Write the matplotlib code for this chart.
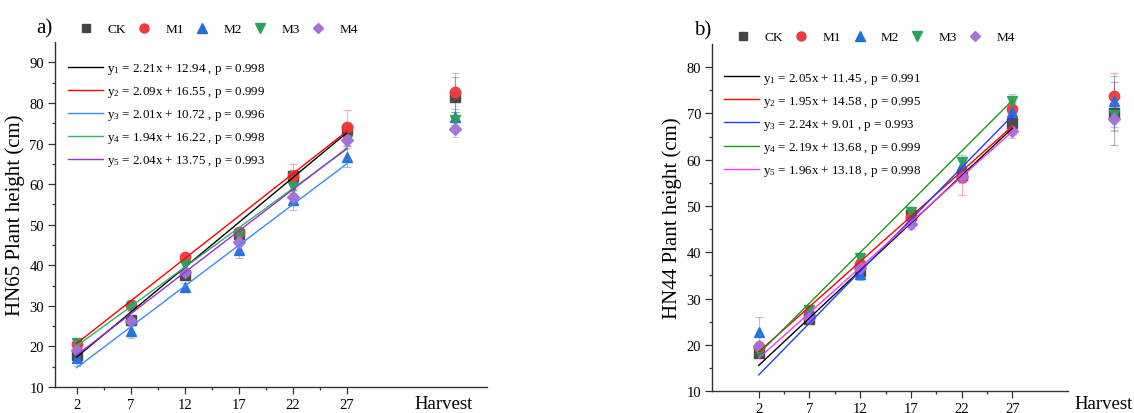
import numpy as np
from matplotlib import pyplot as plt
from matplotlib.lines import Line2D

plt.rcParams['font.family'] = ['Liberation Serif', 'DejaVu Serif']
plt.rcParams['mathtext.fontset'] = 'custom'
plt.rcParams['mathtext.rm'] = 'Liberation Serif'
plt.rcParams['mathtext.it'] = 'Liberation Serif:italic'

# days after sowing, plus the harvest sample
days = [2, 7, 12, 17, 22, 27]
harvest_x = 37
groups = ["CK", "M1", "M2", "M3", "M4"]

# panel a) HN65 (last value = harvest)
hn65 = {
    "CK": [17.8, 26.5, 37.5, 47.7, 62.1, 73.3, 81.5],
    "M1": [20.5, 30.3, 42.0, 48.3, 61.9, 74.0, 82.7],
    "M2": [17.2, 23.8, 34.6, 43.8, 56.1, 66.8, 76.6],
    "M3": [20.8, 29.7, 40.0, 47.5, 59.2, 71.0, 75.8],
    "M4": [19.0, 26.2, 38.3, 45.7, 56.8, 70.8, 73.5],
}
hn65_err = {
    "CK": [1.0, 1.0, 1.2, 1.0, 1.5, 1.5, 5.0],
    "M1": [0.8, 1.2, 0.8, 1.0, 3.0, 4.3, 4.8],
    "M2": [2.0, 1.8, 1.0, 2.0, 2.5, 2.5, 2.0],
    "M3": [0.8, 1.0, 1.0, 1.0, 1.5, 2.0, 2.0],
    "M4": [1.0, 1.2, 1.0, 1.0, 1.5, 1.5, 1.8],
}
hn65_slope = [2.21, 2.09, 2.01, 1.94, 2.04]
hn65_icpt = [12.94, 16.55, 10.72, 16.22, 13.75]
hn65_p = ["0.998", "0.999", "0.996", "0.998", "0.993"]

# panel b) HN44
hn44 = {
    "CK": [18.2, 25.6, 36.0, 48.1, 56.6, 67.9, 70.0],
    "M1": [19.5, 26.7, 37.5, 47.6, 56.2, 71.0, 73.7],
    "M2": [22.7, 27.4, 35.2, 46.9, 58.8, 70.3, 72.6],
    "M3": [18.5, 27.6, 38.8, 48.7, 59.6, 72.8, 69.7],
    "M4": [19.8, 25.7, 36.5, 46.0, 56.5, 66.3, 68.9],
}
hn44_err = {
    "CK": [1.0, 1.0, 1.0, 1.0, 1.5, 1.5, 6.9],
    "M1": [1.0, 1.0, 1.0, 1.0, 3.8, 1.5, 5.0],
    "M2": [3.2, 1.0, 1.2, 1.0, 1.5, 2.0, 5.5],
    "M3": [1.0, 1.0, 1.0, 1.0, 1.5, 1.5, 3.5],
    "M4": [1.0, 1.0, 1.0, 1.0, 1.5, 1.5, 2.5],
}
hn44_slope = [2.05, 1.95, 2.24, 2.19, 1.96]
hn44_icpt = [11.45, 14.58, 9.01, 13.68, 13.18]
hn44_p = ["0.991", "0.995", "0.993", "0.999", "0.998"]

markers = {"CK": "s", "M1": "o", "M2": "^", "M3": "v", "M4": "D"}
mcolors = {"CK": "#444444", "M1": "#EE3B3B", "M2": "#1F6FE0", "M3": "#2CA05A", "M4": "#A870DB"}
msizes = {"CK": 7, "M1": 7.5, "M2": 7.5, "M3": 7.5, "M4": 6}


def draw_panel(ax, data, err, slope, icpt, pvals, line_colors, ylabel, ylim, xlim,
               spine_end, tag, tag_x, top_leg_pos, line_leg_pos, harvest_pad):
    xs = np.array(days + [harvest_x])
    for g in groups:
        # faint error bars, solid markers on top
        ax.errorbar(xs, data[g], yerr=err[g], fmt="none", ecolor=mcolors[g], elinewidth=0.8,
                    capsize=3, capthick=0.8, alpha=0.4, clip_on=False, zorder=2)
        ax.plot(xs, data[g], ls="none", marker=markers[g], color=mcolors[g], ms=msizes[g],
                alpha=0.95, clip_on=False, zorder=3)
    # regression lines over the growth period
    xfit = np.array([days[0], days[-1]])
    lines = []
    for i in range(5):
        ln, = ax.plot(xfit, slope[i] * xfit + icpt[i], color=line_colors[i], lw=1.0, zorder=4)
        lines.append(ln)
    labels = [rf"y$_{i+1}$ = {slope[i]:.2f}x + {icpt[i]:.2f} , p = {pvals[i]}" for i in range(5)]

    # marker legend above the plot
    handles = [Line2D([], [], ls="none", marker=markers[g], color=mcolors[g], ms=msizes[g] - 1)
               for g in groups]
    leg1 = ax.legend(handles, groups, loc="center left", bbox_to_anchor=top_leg_pos, ncol=5,
                     frameon=False, fontsize=9.5, handlelength=1.0, handletextpad=1.1,
                     columnspacing=0.9, borderpad=0, borderaxespad=0)
    ax.add_artist(leg1)
    ax.legend(lines, labels, loc="upper left", bbox_to_anchor=line_leg_pos, frameon=False,
              fontsize=9.4, handlelength=2.7, handletextpad=0.3, labelspacing=0.62,
              borderpad=0, borderaxespad=0)

    ax.set_xlim(*xlim)
    ax.set_ylim(*ylim)
    ax.set_xticks(days)
    ax.set_xticks([d + 2.5 for d in days[:-1]], minor=True)
    ax.set_yticks(np.arange(ylim[0], ylim[1], 10))
    ax.set_yticks(np.arange(ylim[0] + 5, ylim[1], 10), minor=True)
    ax.tick_params(labelsize=10.5, length=5, width=0.9, pad=3, color="#333333")
    ax.tick_params(which="minor", length=2.5, width=0.9, color="#333333")
    for s in ["top", "right"]:
        ax.spines[s].set_visible(False)
    for s in ["left", "bottom"]:
        ax.spines[s].set_linewidth(1.0)
        ax.spines[s].set_color("#333333")
    ax.spines["bottom"].set_bounds(xlim[0], spine_end)
    ax.set_ylabel(ylabel, fontsize=15, labelpad=3)
    ax.annotate("Harvest", xy=(36, 0), xycoords=("data", "axes fraction"),
                xytext=(0, harvest_pad), textcoords="offset points", ha="center", va="top",
                fontsize=13.5, annotation_clip=False)
    ax.text(tag_x, 1.04, tag, transform=ax.transAxes, fontsize=15, ha="center", va="center")


fig = plt.figure(figsize=(11.34, 4.14), dpi=100)
ax1 = fig.add_axes([0.0485, 0.0628, 0.381, 0.833])
ax2 = fig.add_axes([0.628, 0.0531, 0.3675, 0.838])

draw_panel(ax1, hn65, hn65_err, hn65_slope, hn65_icpt, hn65_p,
           ["black", "#FF0000", "#3A8DF0", "#2FB36A", "#9B30D0"],
           "HN65 Plant height (cm)", (10, 95), (0, 40), 40, "a)", -0.024,
           (0.057, 1.038), (0.030, 0.945), -5.5)
draw_panel(ax2, hn44, hn44_err, hn44_slope, hn44_icpt, hn44_p,
           ["black", "#FF0000", "#1F3FFF", "#1A9A1A", "#F040F0"],
           "HN44 Plant height (cm)", (10, 85), (-2.6, 38.5), 32.5, "b)", -0.022,
           (0.059, 1.020), (0.029, 0.923), -3.0)

fig.savefig("out.png", dpi=100)
